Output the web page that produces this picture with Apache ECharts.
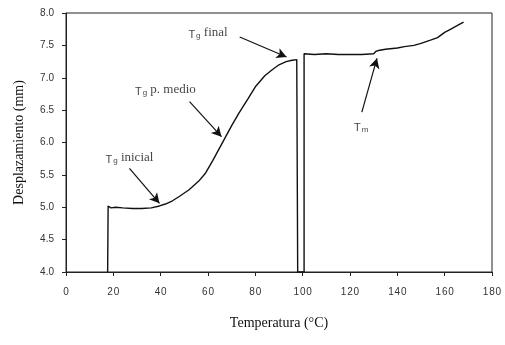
<!DOCTYPE html>
<html><head><meta charset="utf-8">
<script src="https://cdn.jsdelivr.net/npm/echarts@6/dist/echarts.min.js"></script>
<style>html,body{margin:0;padding:0;background:#fff}#c{width:505px;height:345px}</style>
</head><body><div id="c"></div>
<script>
// Data
var temps = [17.6,17.8,19,21,24,28,32,36,39.5,42,45,48,52,56,59,62,66,70,73,77,80,84,87,90,93,95.5,97.5,97.9,100.6,100.6,105,110,115,120,125,130,131,132,135,140,143,147,150,154,157,160,163,166,168];
var disp  = [4.0,5.02,4.99,5.0,4.99,4.98,4.98,4.99,5.02,5.05,5.10,5.17,5.27,5.40,5.53,5.72,5.99,6.26,6.45,6.68,6.86,7.03,7.12,7.20,7.25,7.27,7.28,4.0,4.0,7.37,7.36,7.37,7.36,7.36,7.36,7.37,7.41,7.42,7.44,7.46,7.48,7.50,7.53,7.58,7.62,7.70,7.76,7.82,7.86];
var xTicks = [0,20,40,60,80,100,120,140,160,180];
var yTicks = [4.0,4.5,5.0,5.5,6.0,6.5,7.0,7.5,8.0];
// annotations: label parts, label position, arrow start, arrow end
var annSub   = ['g','g','g','m'];
var annText  = [' inicial',' p. medio',' final',''];
var annPos   = [[26.8,5.76],[42,6.81],[60,7.69],[124.7,6.24]];
var arrFrom  = [[26.8,5.60],[52.2,6.63],[73.4,7.63],[125,6.47]];
var arrTo    = [[39.5,5.06],[65.7,6.09],[93.2,7.32],[131.4,7.30]];

var series = temps.map(function(t,i){return [t,disp[i]];});
var chart = echarts.init(document.getElementById('c'));
var serif = '"Liberation Serif","Times New Roman",serif';
var sans = '"Liberation Sans",Arial,sans-serif';
chart.setOption({
  animation:false,
  backgroundColor:'#fff',
  grid:{left:66,right:13,top:13,bottom:73,show:true,borderColor:'#222',borderWidth:1},
  xAxis:{type:'value',min:xTicks[0],max:xTicks[xTicks.length-1],interval:20,
    name:'Temperatura (\u00B0C)',nameLocation:'middle',nameGap:44,
    nameTextStyle:{fontFamily:serif,fontSize:14,color:'#111'},
    axisLine:{lineStyle:{color:'#222',width:1}},
    axisTick:{show:true,length:4,lineStyle:{color:'#222'}},
    axisLabel:{margin:15,fontFamily:sans,fontSize:10,color:'#333',
      formatter:function(v){return String(v).split('').join('\u200A');}},
    splitLine:{show:false}},
  yAxis:{type:'value',min:yTicks[0],max:yTicks[yTicks.length-1],interval:0.5,
    name:'Desplazamiento (mm)',nameLocation:'middle',nameGap:40,
    nameTextStyle:{fontFamily:serif,fontSize:14,color:'#111'},
    axisLine:{show:true,lineStyle:{color:'#222',width:1}},
    axisTick:{show:true,length:4,lineStyle:{color:'#222'}},
    axisLabel:{margin:12,fontFamily:sans,fontSize:10,color:'#333',
      formatter:function(v){return v.toFixed(1);}},
    splitLine:{show:false}},
  series:[
    {type:'line',data:series,showSymbol:false,symbol:'none',
     lineStyle:{color:'#111',width:1.4},
     markLine:{silent:true,symbol:['none','arrow'],symbolSize:[8,10],
       lineStyle:{color:'#111',width:1.2,type:'solid'},label:{show:false},
       data:arrFrom.map(function(f,i){return [{coord:f},{coord:arrTo[i]}];})}},
    {type:'scatter',symbolSize:0,silent:true,
     data:annPos.map(function(p,i){return {value:p};}),
     label:{show:true,position:'inside',
       formatter:function(p){var i=p.dataIndex;return '{t|T}{s|'+annSub[i]+'}{w|'+annText[i]+'}';},
       rich:{t:{fontFamily:sans,fontSize:11,color:'#111',verticalAlign:'bottom'},
             s:{fontFamily:sans,fontSize:8,color:'#111',padding:[6,0,0,1]},
             w:{fontFamily:serif,fontSize:13,color:'#111'}}}}
  ]
});
</script></body></html>
